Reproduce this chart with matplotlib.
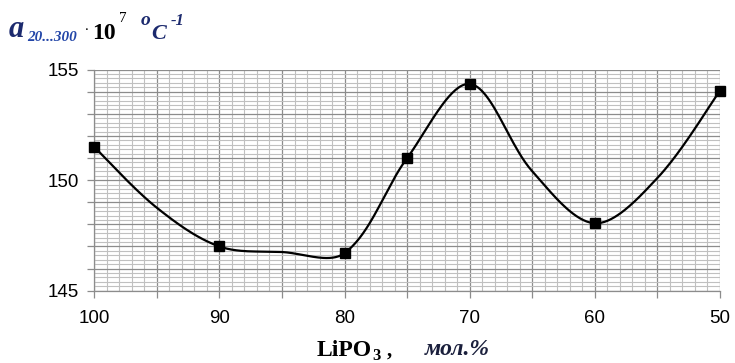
import numpy as np
import matplotlib
matplotlib.use("Agg")
import matplotlib.pyplot as plt
from matplotlib.ticker import MultipleLocator, FuncFormatter

# LiPO3 content, mol.% and thermal expansion coefficient a(20...300)*10^7
lipo3 = np.array([100, 95, 90, 85, 80, 75, 70, 65, 60, 55, 50])
alpha = np.array([151.5, 148.75, 147.0, 146.75, 146.7, 151.0, 154.35, 150.4, 148.05, 150.1, 154.05])
marked = [100, 90, 80, 75, 70, 60, 50]   # points drawn with a marker

x_ticks = [100, 90, 80, 70, 60, 50]
y_ticks = [145, 150, 155]

W, H = 735, 363
navy = '#1c2a6e'
blue = '#2346a8'


def smooth(xs, ys, sx=12.52, sy=22.1, n=40):
    # excel-like smoothed line: bezier through the points, handles scaled by
    # the neighbouring segment lengths (worked out in screen units)
    P = np.column_stack([-xs * sx, ys * sy]).astype(float)
    m = len(P)
    out = []
    for i in range(m - 1):
        p1, p2 = P[i], P[i + 1]
        d12 = np.hypot(*(p2 - p1))
        if i > 0:
            d01 = np.hypot(*(p1 - P[i - 1]))
            c1 = p1 + (p2 - P[i - 1]) * d12 / (d01 + d12) / 3
        else:
            c1 = p1 + (p2 - p1) / 6
        if i + 2 < m:
            d23 = np.hypot(*(P[i + 2] - p2))
            c2 = p2 - (P[i + 2] - p1) * d12 / (d12 + d23) / 3
        else:
            c2 = p2 - (p2 - p1) / 6
        t = np.linspace(0, 1, n)[:, None]
        seg = (1 - t) ** 3 * p1 + 3 * (1 - t) ** 2 * t * c1 + 3 * (1 - t) * t ** 2 * c2 + t ** 3 * p2
        out.append(seg if i == 0 else seg[1:])
    out = np.vstack(out)
    return -out[:, 0] / sx, out[:, 1] / sy


def fx(px):
    return px / W


def fy(py):
    return 1 - py / H


fig = plt.figure(figsize=(W / 100, H / 100), dpi=100)
ax = fig.add_axes([fx(94.3), fy(290.7), fx(720) - fx(94.3), fy(69.6) - fy(290.7)])

ax.set_xlim(100, 50)
ax.set_ylim(145, 155)

# paper-like grid
ax.xaxis.set_major_locator(MultipleLocator(5))
ax.xaxis.set_minor_locator(MultipleLocator(1))
ax.yaxis.set_major_locator(MultipleLocator(1))
ax.yaxis.set_minor_locator(MultipleLocator(0.2))
ax.grid(True, which='minor', color='#c0c0c0', linewidth=0.8)
ax.grid(True, which='major', color='#8c8c8c', linewidth=0.9)
ax.set_axisbelow(True)

ax.xaxis.set_major_formatter(FuncFormatter(lambda v, p: str(int(round(v))) if round(v) in x_ticks else ''))
ax.yaxis.set_major_formatter(FuncFormatter(lambda v, p: str(int(round(v))) if round(v, 3) in y_ticks else ''))
ax.tick_params(which='major', direction='out', length=5, width=0.9, color='#8c8c8c',
               labelsize=13.5, labelcolor='black')
ax.tick_params(which='minor', length=0)
ax.tick_params(axis='x', pad=9)
ax.tick_params(axis='y', pad=6)
for lbl in ax.get_xticklabels() + ax.get_yticklabels():
    lbl.set_family('Liberation Sans')
for s in ['top', 'right']:
    ax.spines[s].set_visible(False)
for s in ['left', 'bottom']:
    ax.spines[s].set_color('#8c8c8c')
    ax.spines[s].set_linewidth(0.9)

cx, cy = smooth(lipo3, alpha)
ax.plot(cx, cy, color='black', linewidth=1.6, solid_capstyle='round', zorder=3)
mask = np.isin(lipo3, marked)
ax.plot(lipo3[mask], alpha[mask], 's', color='black', markersize=6.5, zorder=4,
        clip_on=False)

# axis title on top
serif = 'Liberation Serif'
fig.text(fx(9), fy(37), 'a', family=serif, style='italic', weight='bold', size=22, color=navy)
fig.text(fx(27), fy(41), '20...300', family=serif, style='italic', weight='bold', size=11, color=blue)
fig.text(fx(85), fy(30), '.', family=serif, size=11, color='black')
fig.text(fx(92), fy(39), '10', family=serif, weight='bold', size=17, color='black')
fig.text(fx(119), fy(22), '7', family=serif, size=11, color='black')
fig.text(fx(141), fy(25), 'o', family=serif, style='italic', weight='bold', size=14, color=navy)
fig.text(fx(151), fy(39), 'C', family=serif, style='italic', weight='bold', size=16, color=navy)
fig.text(fx(171), fy(25), '-1', family=serif, style='italic', weight='bold', size=12, color=navy)

# x axis title
fig.text(fx(317), fy(356), 'LiPO', family=serif, weight='bold', size=17, color='black')
fig.text(fx(372), fy(360), '3', family=serif, weight='bold', size=12, color='black')
fig.text(fx(387), fy(356), ',', family=serif, weight='bold', size=15, color='black')
fig.text(fx(425), fy(355), 'мол.%', family=serif, style='italic', weight='bold', size=17, color='#1a1f3c')

fig.savefig('out.png', dpi=100)
